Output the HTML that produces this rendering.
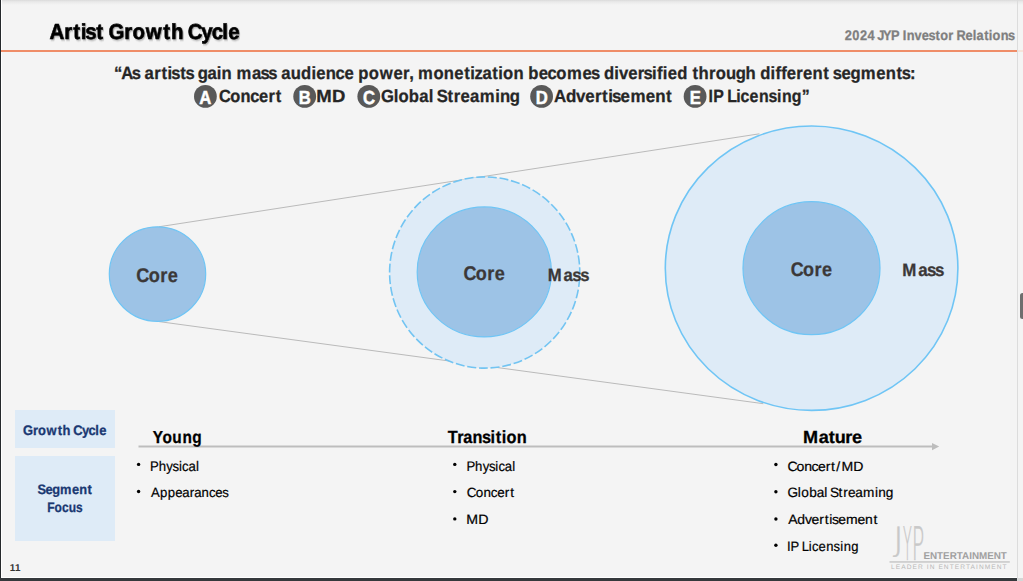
<!DOCTYPE html>
<html><head><meta charset="utf-8">
<style>
html,body{margin:0;padding:0;}
body{width:1023px;height:581px;overflow:hidden;position:relative;background:#f4f4f4;font-family:'Liberation Sans',sans-serif;}
.abs{position:absolute;}
svg text{text-rendering:geometricPrecision;white-space:pre;}
svg{font-family:'Liberation Sans',sans-serif;}
</style></head><body>
<!-- frame -->
<div class="abs" style="left:0;top:0;width:1023px;height:5px;background:linear-gradient(#dadada,#e9e9e9 35%,rgba(244,244,244,0));"></div>
<div class="abs" style="left:0;top:0;width:1px;height:581px;background:#25292c;"></div>
<div class="abs" style="left:1px;top:0;width:1px;height:577px;background:#fff;"></div>
<div class="abs" style="left:1px;top:577px;width:1016px;height:1px;background:#fff;"></div>
<div class="abs" style="left:0;top:578px;width:1017px;height:3px;background:#35393c;"></div>
<div class="abs" style="left:1018px;top:578px;width:5px;height:3px;background:#d6d6d6;"></div>
<div class="abs" style="left:1017px;top:0;width:1px;height:581px;background:#dcdcdc;"></div>
<div class="abs" style="left:1020px;top:293px;width:5px;height:26px;border-radius:3px;background:#6e6e6e;"></div>
<div class="abs" style="left:1px;top:50px;width:1016px;height:2px;background:#ef8d68;"></div>
<div class="abs" style="left:1018px;top:50px;width:5px;height:2px;background:#f6e4da;"></div>
<!-- label boxes -->
<div class="abs" style="left:14.7px;top:410.4px;width:100.1px;height:37.3px;background:#deebf7;"></div>
<div class="abs" style="left:14.6px;top:456.3px;width:100.3px;height:84.3px;background:#deebf7;"></div>
<svg class="abs" style="left:0;top:0" width="1023" height="581" viewBox="0 0 1023 581">
 <defs>
  <filter id="tsh" x="-5%" y="-30%" width="110%" height="160%">
   <feGaussianBlur in="SourceAlpha" stdDeviation="0.8"/>
   <feOffset dx="1" dy="1" result="b"/>
   <feComponentTransfer><feFuncA type="linear" slope="0.35"/></feComponentTransfer>
   <feMerge><feMergeNode/><feMergeNode in="SourceGraphic"/></feMerge>
  </filter>
 </defs>
 <line x1="158.8" y1="226.8" x2="759.4" y2="133.8" stroke="#bababa" stroke-width="1"/>
 <line x1="158.4" y1="321.5" x2="763.3" y2="403.7" stroke="#bababa" stroke-width="1"/>
 <ellipse cx="157.5" cy="274.05" rx="48.2" ry="47.25" fill="#9dc3e6" stroke="#6fc5f5" stroke-width="1.2"/>
 <ellipse cx="484.7" cy="272.5" rx="95.1" ry="95.6" fill="#deebf7" stroke="#72c4f2" stroke-width="1.6" stroke-dasharray="9 2.747" stroke-dashoffset="-5.4"/>
 <ellipse cx="484.3" cy="271.9" rx="67.1" ry="65.0" fill="#9dc3e6" stroke="#6fc5f5" stroke-width="1.2"/>
 <ellipse cx="811.6" cy="268.2" rx="146.3" ry="142.2" fill="#deebf7" stroke="#6fc5f5" stroke-width="1.6"/>
 <ellipse cx="811.5" cy="268.2" rx="68.5" ry="66.5" fill="#9dc3e6" stroke="#6fc5f5" stroke-width="1.2"/>
 <line x1="138.5" y1="446.5" x2="933" y2="446.5" stroke="#bdbdbd" stroke-width="2.2"/>
 <polygon points="932,443.1 939.2,446.6 932,450.2" fill="#bdbdbd"/>
 <!-- badges -->
 <g fill="#595959">
  <circle cx="205.4" cy="96.4" r="11.4"/>
  <circle cx="304.7" cy="96.4" r="11.4"/>
  <circle cx="368.8" cy="96.4" r="11.4"/>
  <circle cx="541.6" cy="96.4" r="11.4"/>
  <circle cx="695.1" cy="96.4" r="11.4"/>
 </g>
 <g fill="#fff" stroke="#fff" stroke-width="0.5" font-weight="700" font-size="19" text-anchor="middle">
  <text transform="translate(205.4 104) scale(0.88 1)" x="0" y="0">A</text>
  <text transform="translate(304.9 104) scale(0.88 1)" x="0" y="0">B</text>
  <text transform="translate(369.0 104) scale(0.88 1)" x="0" y="0">C</text>
  <text transform="translate(541.9 104) scale(0.88 1)" x="0" y="0">D</text>
  <text transform="translate(695.3 104) scale(0.88 1)" x="0" y="0">E</text>
 </g>
 <!-- bullets -->
 <g fill="#000">
  <circle cx="138.6" cy="464.4" r="1.7"/>
  <circle cx="138.6" cy="491.5" r="1.7"/>
  <circle cx="454.8" cy="464.4" r="1.7"/>
  <circle cx="454.8" cy="491.6" r="1.7"/>
  <circle cx="454.8" cy="518.9" r="1.7"/>
  <circle cx="775.9" cy="464.5" r="1.7"/>
  <circle cx="775.9" cy="491.7" r="1.7"/>
  <circle cx="775.9" cy="519.0" r="1.7"/>
  <circle cx="775.9" cy="545.3" r="1.7"/>
 </g>
 <!-- logo -->
 <g style="font-family:'DejaVu Sans',sans-serif;font-weight:200" font-size="46.2" fill="#c8c8c8" stroke="#c8c8c8" stroke-width="0.5" vector-effect="non-scaling-stroke">
  <text transform="translate(893.0 550.8) scale(0.8 0.72)" x="0" y="0" vector-effect="non-scaling-stroke">J</text>
  <text transform="translate(903.3 559.5) scale(0.31 1)" x="-0.9" y="0" vector-effect="non-scaling-stroke">Y</text>
  <text transform="translate(914.3 559.5) scale(0.45 1)" x="-5.5" y="0" vector-effect="non-scaling-stroke">P</text>
 </g>
 <text x="923.4" y="558.6" font-size="9.8" font-weight="700" fill="#a0a0a0" textLength="83.5" lengthAdjust="spacingAndGlyphs">ENTERTAINMENT</text>
 <rect x="889.5" y="561.2" width="120.3" height="1.5" fill="#c8c8c8"/>
 <text x="891.1" y="569.3" font-size="6.6" fill="#b8b8b8" textLength="115.5" lengthAdjust="spacing">LEADER IN ENTERTAINMENT</text>
<text transform="scale(0.9407,1)" x="52.61 68.32 77.76 85.72 90.72 102.38 110.04 115.46 132.17 140.84 154.97 173.55 181.68 194.89 199.56 213.97 225.03 236.25 242.64" y="39" font-size="21.68" font-weight="700" fill="#000" stroke="#000" stroke-width="0.6" filter="url(#tsh)">Artist Growth Cycle</text>
<text transform="scale(0.9249,1)" x="913.32 921.57 929.82 938.07 945.96 948.57 954.72 963.28 972.15 976.15 980.39 988.87 996.63 1003.89 1011.41 1016.52 1025.24 1030.74 1034.09 1043.80 1051.70 1055.79 1064.10 1069.17 1073.18 1081.93 1089.92" y="40" font-size="13.84" font-weight="700" fill="#7f7f7f" stroke="#7f7f7f" stroke-width="0.28">2024 JYP Investor Relations</text>
<text transform="scale(0.9404,1)" x="121.15 129.03 139.99 148.86 153.78 163.97 171.66 178.16 182.23 191.74 197.29 206.17 210.40 220.63 230.50 235.57 246.34 251.59 267.94 277.10 285.28 294.15 299.07 309.15 320.16 331.13 336.34 346.52 356.80 366.26 376.20 381.07 392.09 403.74 418.41 428.62 435.14 439.35 444.60 460.92 471.93 483.08 493.71 500.13 504.69 513.20 523.57 529.96 534.97 545.99 556.76 561.63 572.78 582.24 591.51 602.85 619.30 628.55 637.43 642.30 653.27 658.18 668.10 678.29 684.42 693.37 698.64 704.82 709.95 720.13 730.90 736.29 742.88 754.00 761.07 771.96 782.32 792.69 803.46 808.33 819.30 824.57 830.73 836.65 846.76 853.97 864.04 875.46 881.73 885.67 894.93 904.47 915.21 931.66 941.84 953.27 958.84 967.74" y="79" font-size="17.71" font-weight="700" fill="#262626" stroke="#262626" stroke-width="0.28">“As artists gain mass audience power, monetization becomes diversified through different segments:</text>
<text transform="scale(0.9300,1)" x="235.54 247.53 258.62 268.96 278.48 288.82 296.56" y="102" font-size="17.65" font-weight="700" fill="#262626" stroke="#262626" stroke-width="0.28">Concert</text>
<text transform="scale(1.0531,1)" x="300.42 315.18" y="102" font-size="17.61" font-weight="700" fill="#262626" stroke="#262626" stroke-width="0.28">MD</text>
<text transform="scale(0.9424,1)" x="404.30 417.77 422.84 433.83 444.87 454.90 459.73 463.43 474.78 481.47 488.66 498.76 509.18 525.44 530.50 540.85" y="102" font-size="17.68" font-weight="700" fill="#262626" stroke="#262626" stroke-width="0.28">Global Streaming</text>
<text transform="scale(0.9629,1)" x="575.33 587.69 598.24 607.87 617.81 625.30 631.62 635.52 644.51 654.70 670.76 680.64 691.79" y="102" font-size="17.57" font-weight="700" fill="#262626" stroke="#262626" stroke-width="0.28">Advertisement</text>
<text transform="scale(0.8995,1)" x="787.70 792.84 804.46 808.49 818.64 823.32 833.24 843.95 854.51 863.92 869.38 880.26 891.40" y="102" font-size="17.69" font-weight="700" fill="#262626" stroke="#262626" stroke-width="0.28">IP Licensing”</text>
<text transform="scale(0.9148,1)" x="148.97 162.56 175.20 183.48" y="282" font-size="19.83" font-weight="700" fill="#3b3838" stroke="#3b3838" stroke-width="0.28">Core</text>
<text transform="scale(0.9148,1)" x="506.63 520.12 532.67 540.89" y="280" font-size="19.69" font-weight="700" fill="#3b3838" stroke="#3b3838" stroke-width="0.28">Core</text>
<text transform="scale(0.9148,1)" x="864.29 877.75 890.26 898.47" y="276" font-size="19.64" font-weight="700" fill="#3b3838" stroke="#3b3838" stroke-width="0.28">Core</text>
<text transform="scale(0.9425,1)" x="581.23 597.97 607.27 615.58" y="281" font-size="17.70" font-weight="700" fill="#3b3838" stroke="#3b3838" stroke-width="0.28">Mass</text>
<text transform="scale(0.9425,1)" x="957.25 974.24 983.68 992.12" y="276" font-size="17.96" font-weight="700" fill="#3b3838" stroke="#3b3838" stroke-width="0.28">Mass</text>
<text transform="scale(0.9364,1)" x="24.44 35.12 40.68 49.74 61.62 66.83 75.27 78.28 87.50 94.59 101.76 105.86" y="435" font-size="13.83" font-weight="700" fill="#1a3872" stroke="#1a3872" stroke-width="0.28">Growth Cycle</text>
<text transform="scale(0.9386,1)" x="40.00 48.44 55.76 64.01 76.63 84.45 93.22" y="494" font-size="13.66" font-weight="700" fill="#1a3872" stroke="#1a3872" stroke-width="0.28">Segment</text>
<text transform="scale(0.8645,1)" x="54.59 63.09 71.62 79.50 87.95" y="512" font-size="13.88" font-weight="700" fill="#1a3872" stroke="#1a3872" stroke-width="0.28">Focus</text>
<text transform="scale(0.8834,1)" x="172.90 184.06 194.91 206.63 217.67" y="443" font-size="17.43" font-weight="700" fill="#000" stroke="#000" stroke-width="0.28">Young</text>
<text transform="scale(0.9261,1)" x="483.46 493.70 500.28 510.25 520.44 529.58 535.23 541.79 546.90 558.04" y="443" font-size="17.60" font-weight="700" fill="#000" stroke="#000" stroke-width="0.28">Transition</text>
<text transform="scale(1.0259,1)" x="782.63 798.00 807.83 813.60 824.00 830.51" y="443" font-size="17.63" font-weight="700" fill="#000" stroke="#000" stroke-width="0.28">Mature</text>
<text transform="scale(0.9524,1)" x="157.56 166.62 174.65 181.14 187.92 191.21 197.94 205.81" y="471" font-size="13.86" font-weight="400" fill="#000" stroke="#000" stroke-width="0.2">Physical</text>
<text transform="scale(0.9841,1)" x="153.55 162.52 170.36 177.99 185.27 192.93 197.47 204.81 212.25 218.75 225.75" y="497" font-size="13.39" font-weight="400" fill="#000" stroke="#000" stroke-width="0.2">Appearances</text>
<text transform="scale(0.9524,1)" x="489.79 498.83 506.84 513.32 520.08 523.36 530.08 537.93" y="471" font-size="13.83" font-weight="400" fill="#000" stroke="#000" stroke-width="0.2">Physical</text>
<text transform="scale(1.0063,1)" x="463.90 472.73 480.41 487.70 494.04 501.70 507.05" y="497" font-size="13.39" font-weight="400" fill="#000" stroke="#000" stroke-width="0.2">Concert</text>
<text transform="scale(1.0443,1)" x="446.59 458.00" y="524" font-size="13.60" font-weight="400" fill="#000" stroke="#000" stroke-width="0.2">MD</text>
<text transform="scale(1.0449,1)" x="753.73 762.27 769.65 776.68 782.76 790.18 795.34 800.40 805.42 816.47" y="471" font-size="13.48" font-weight="400" fill="#000" stroke="#000" stroke-width="0.2">Concert/MD</text>
<text transform="scale(1.0014,1)" x="786.51 796.75 800.16 808.06 815.60 823.20 826.24 828.74 837.35 842.11 846.84 854.07 861.78 873.66 877.06 884.53" y="497" font-size="13.61" font-weight="400" fill="#000" stroke="#000" stroke-width="0.2">Global Streaming</text>
<text transform="scale(1.0344,1)" x="762.09 770.78 778.19 784.57 792.10 797.39 801.77 804.32 810.33 817.80 828.99 836.35 844.36" y="524" font-size="13.50" font-weight="400" fill="#000" stroke="#000" stroke-width="0.2">Advertisement</text>
<text transform="scale(0.9574,1)" x="822.14 825.56 834.12 837.33 844.77 848.03 854.94 863.05 870.69 877.52 881.21 889.10" y="551" font-size="13.63" font-weight="400" fill="#000" stroke="#000" stroke-width="0.2">IP Licensing</text>
<text transform="scale(0.9921,1)" x="9.80 15.21" y="571" font-size="9.92" font-weight="700" fill="#333">11</text>
</svg>
</body></html>
